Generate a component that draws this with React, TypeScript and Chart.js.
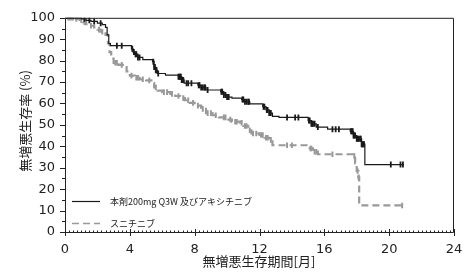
import React, { useEffect, useRef } from 'react';
import { Chart, registerables } from 'chart.js';

Chart.register(...registerables);

// ---- data ----
const comboTimes = [0, 1.0, 1.3, 1.6, 2.0, 2.3, 2.5, 2.6, 2.7, 2.8, 4.1, 4.2, 4.3, 4.5, 4.8, 5.4, 5.5, 5.6, 5.7, 6.2, 7.0, 7.2, 7.35, 8.2, 8.4, 8.7, 9.6, 9.8, 10.0, 10.3, 10.9, 11.1, 11.4, 12.2, 12.4, 12.6, 12.8, 13.2, 15.0, 15.2, 15.5, 16.2, 17.6, 17.8, 18.0, 18.3, 18.5, 20.9];
const comboSurv = [100, 99.5, 98.8, 98.3, 97.5, 96.8, 95.5, 92, 88, 87, 85.5, 84, 83, 81.5, 80.5, 79.5, 77, 75.5, 74, 73.2, 72.5, 71, 69.5, 68.5, 67.5, 66.3, 65.5, 64, 63, 62.5, 61.8, 60.8, 59.8, 58.5, 57, 55.5, 54, 53.5, 52, 50.5, 49, 48, 47, 45, 43.5, 41, 31.5, 31.5];
const comboCensor = [1.2, 1.5, 1.8, 2.2, 3.2, 3.5, 4.15, 4.25, 4.35, 4.4, 4.5, 4.6, 5.45, 5.5, 5.55, 5.6, 5.65, 5.75, 7.0, 7.05, 7.1, 7.15, 7.2, 7.25, 7.3, 7.5, 7.6, 7.8, 8.25, 8.3, 8.4, 8.5, 8.6, 8.65, 8.8, 9.65, 9.7, 9.8, 9.9, 10.0, 10.1, 10.95, 11.0, 11.1, 11.2, 11.3, 11.35, 12.25, 12.3, 12.45, 12.5, 12.6, 12.7, 13.7, 14.2, 14.4, 15.05, 15.1, 15.2, 15.25, 15.3, 15.4, 15.6, 16.5, 16.7, 16.9, 17.65, 17.7, 17.75, 17.8, 17.85, 17.9, 18.0, 18.05, 18.1, 18.2, 18.25, 18.3, 18.35, 18.4, 18.45, 20.1, 20.7, 20.85];

const suniTimes = [0, 0.6, 0.9, 1.1, 1.3, 1.5, 1.8, 2.0, 2.2, 2.5, 2.65, 2.75, 2.85, 3.0, 3.3, 3.7, 3.8, 4.0, 4.3, 4.6, 5.0, 5.4, 5.5, 5.7, 6.0, 6.5, 6.8, 7.1, 7.4, 7.7, 8.0, 8.4, 8.7, 9.1, 9.5, 10.0, 10.3, 10.8, 11.0, 11.3, 11.5, 12.0, 12.3, 12.6, 12.8, 15.1, 15.3, 15.6, 17.8, 17.9, 18.0, 18.1, 18.15, 20.8];
const suniSurv = [100, 99.5, 99, 98, 97, 96.3, 95.5, 94.5, 93.5, 92, 88, 84, 81, 79, 78, 77, 75, 73, 72, 71.3, 70.8, 69.5, 67.5, 66, 65.3, 64.5, 63.5, 62.5, 61.5, 60.3, 59, 57.5, 55.5, 54.5, 53.5, 52.5, 51.5, 51, 49.5, 47.5, 46, 45.3, 44, 43, 40.5, 39, 37.5, 36.3, 35.5, 32, 28.5, 25.5, 12.4, 12.4];
const suniCensor = [0.2, 0.3, 0.4, 0.5, 0.7, 1.0, 1.2, 1.6, 2.1, 2.3, 3.1, 3.2, 3.5, 4.1, 4.4, 4.5, 4.8, 5.2, 5.6, 6.1, 6.3, 6.6, 7.0, 7.3, 7.6, 7.9, 8.2, 8.5, 8.8, 9.0, 9.3, 9.8, 9.9, 10.2, 10.5, 10.6, 10.9, 11.1, 11.2, 11.4, 11.6, 11.8, 12.1, 12.2, 12.4, 12.5, 12.7, 13.7, 14.0, 15.15, 15.2, 15.4, 15.5, 16.5, 17.85, 18.05, 18.12, 20.8];

const xTicks = [0, 4, 8, 12, 16, 20, 24];
const yTicks = [0, 10, 20, 30, 40, 50, 60, 70, 80, 90, 100];
const seriesLabels = ['本剤200mg Q3W 及びアキシチニブ', 'スニチニブ'];
const xTitle = '無増悪生存期間[月]';
const yTitle = '無増悪生存率 (%)';

const BLACK = '#1a1a1a';
const GRAY = '#999999';
const SUNI_DASH = [7, 4];

function stepAt(times: number[], surv: number[], t: number) {
  let s = surv[0];
  for (let i = 0; i < times.length; i++) if (times[i] <= t) s = surv[i];
  return s;
}

const decorPlugin = {
  id: 'decor',
  afterDraw(chart: any) {
    const { ctx, chartArea, scales } = chart;
    const xs = scales.x;
    const ys = scales.y;
    const L = chartArea.left, R = chartArea.right, T = chartArea.top, B = chartArea.bottom;
    ctx.save();
    ctx.strokeStyle = '#222';
    ctx.lineWidth = 1;
    // frame
    ctx.beginPath();
    ctx.moveTo(L + 0.5, T + 0.5);
    ctx.lineTo(R - 0.5, T + 0.5);
    ctx.lineTo(R - 0.5, B + 0.5);
    ctx.lineTo(L + 0.5, B + 0.5);
    ctx.closePath();
    ctx.stroke();
    // y ticks
    ctx.beginPath();
    for (let v = 0; v <= 100; v += 5) {
      const y = Math.round(ys.getPixelForValue(v)) + 0.5;
      const len = v % 10 === 0 ? 5 : 3;
      ctx.moveTo(L - len, y);
      ctx.lineTo(L, y);
    }
    ctx.stroke();
    // x ticks
    ctx.beginPath();
    for (let v = 0; v <= 24.001; v += 0.25) {
      const x = Math.round(xs.getPixelForValue(v)) + 0.5;
      const major = Math.abs(v / 4 - Math.round(v / 4)) < 1e-6;
      if (major) {
        ctx.moveTo(x, B - 3);
        ctx.lineTo(x, B + 4);
      } else {
        ctx.moveTo(x, B - 1.5);
        ctx.lineTo(x, B);
      }
    }
    ctx.stroke();
    // axis titles
    ctx.fillStyle = '#222';
    ctx.font = '13px "Noto Sans CJK JP"';
    ctx.textAlign = 'center';
    ctx.textBaseline = 'middle';
    ctx.fillText(xTitle, 259, 261);
    ctx.save();
    ctx.translate(25, 121);
    ctx.rotate(-Math.PI / 2);
    ctx.fillText(yTitle, 0, 0);
    ctx.restore();
    // legend
    const lx0 = L + 7, lx1 = L + 35, tx = L + 45;
    const ly0 = B - 31, ly1 = B - 9;
    ctx.lineWidth = 1.2;
    ctx.strokeStyle = BLACK;
    ctx.beginPath();
    ctx.moveTo(lx0, ly0 + 0.5);
    ctx.lineTo(lx1, ly0 + 0.5);
    ctx.stroke();
    ctx.strokeStyle = GRAY;
    ctx.lineWidth = 1.6;
    ctx.setLineDash(SUNI_DASH);
    ctx.beginPath();
    ctx.moveTo(lx0, ly1 + 0.5);
    ctx.lineTo(lx1, ly1 + 0.5);
    ctx.stroke();
    ctx.setLineDash([]);
    ctx.font = '9px "Noto Sans CJK JP"';
    ctx.textAlign = 'left';
    ctx.fillStyle = '#222';
    ctx.fillText(seriesLabels[0], tx, ly0 + 0.5);
    ctx.fillText(seriesLabels[1], tx, ly1 + 0.5);
    ctx.restore();
  },
};

export default function App() {
  const ref = useRef<HTMLCanvasElement | null>(null);
  useEffect(() => {
    if (!ref.current) return;
    const comboPts = comboTimes.map((t, i) => ({ x: t, y: comboSurv[i] }));
    const suniPts = suniTimes.map((t, i) => ({ x: t, y: suniSurv[i] }));
    const comboC = comboCensor.map((t) => ({ x: t, y: stepAt(comboTimes, comboSurv, t) }));
    const suniC = suniCensor.map((t) => ({ x: t, y: stepAt(suniTimes, suniSurv, t) }));
    const chart = new Chart(ref.current, {
      type: 'line',
      data: {
        datasets: [
          {
            label: seriesLabels[0] + ' censor',
            data: comboC,
            showLine: false,
            pointStyle: 'line',
            pointRotation: 90,
            pointRadius: 3,
            pointBorderWidth: 1.8,
            pointBorderColor: BLACK,
            pointBackgroundColor: BLACK,
          },
          {
            label: seriesLabels[0],
            data: comboPts,
            stepped: 'before',
            borderColor: BLACK,
            borderWidth: 1.2,
            pointRadius: 0,
            fill: false,
          },
          {
            label: seriesLabels[1] + ' censor',
            data: suniC,
            showLine: false,
            pointStyle: 'line',
            pointRotation: 90,
            pointRadius: 2.8,
            pointBorderWidth: 2,
            pointBorderColor: GRAY,
            pointBackgroundColor: GRAY,
          },
          {
            label: seriesLabels[1],
            data: suniPts,
            stepped: 'before',
            borderColor: GRAY,
            borderWidth: 2.2,
            borderDash: SUNI_DASH,
            pointRadius: 0,
            fill: false,
          },
        ],
      },
      options: {
        responsive: false,
        animation: false,
        layout: { padding: { left: 0, right: 21, top: 14, bottom: 0 } },
        plugins: { legend: { display: false }, tooltip: { enabled: false } },
        scales: {
          x: {
            type: 'linear',
            min: 0,
            max: 24,
            afterBuildTicks: (s: any) => {
              s.ticks = xTicks.map((v) => ({ value: v }));
            },
            afterFit: (s: any) => {
              s.height = 46;
            },
            ticks: {
              font: { family: 'DejaVu Sans', size: 13 },
              color: '#222',
              padding: 10,
              maxRotation: 0,
              autoSkip: false,
            },
            grid: { display: false, drawTicks: false },
            border: { display: false },
          },
          y: {
            type: 'linear',
            min: 0,
            max: 100,
            afterBuildTicks: (s: any) => {
              s.ticks = yTicks.map((v) => ({ value: v }));
            },
            afterFit: (s: any) => {
              s.width = 65;
            },
            ticks: {
              font: { family: 'DejaVu Sans', size: 13 },
              color: '#222',
              padding: 10,
              autoSkip: false,
            },
            grid: { display: false, drawTicks: false },
            border: { display: false },
          },
        },
      },
      plugins: [decorPlugin],
    });
    return () => chart.destroy();
  }, []);
  return (
    <div style={{ position: 'fixed', left: 0, top: 0, width: 475, height: 278, background: '#fff' }}>
      <canvas ref={ref} width={475} height={278} style={{ width: 475, height: 278, display: 'block' }} />
    </div>
  );
}
